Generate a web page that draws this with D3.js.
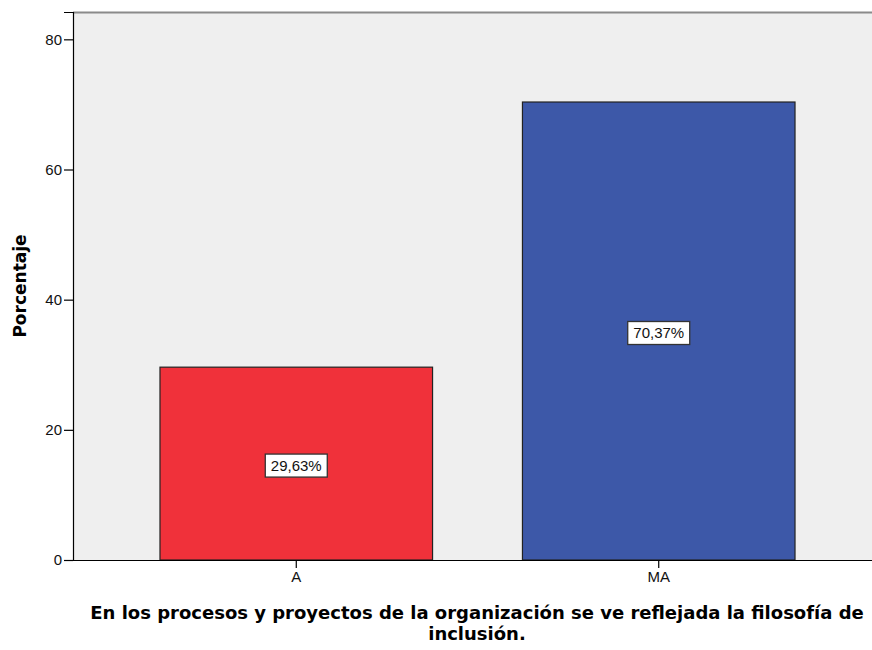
<!DOCTYPE html>
<html>
<head>
<meta charset="utf-8">
<script src="https://cdn.jsdelivr.net/npm/d3@7"></script>
<style>
  body { margin: 0; background: #fff; }
</style>
</head>
<body>
<div id="chart"></div>
<script>
// data
var categories = ["A", "MA"];
var percents = [29.63, 70.37];
var labels = ["29,63%", "70,37%"];
var barColors = ["#f0313a", "#3d58a8"];
var yTicks = [0, 20, 40, 60, 80];

var W = 872, H = 650;
var margin = { top: 12, right: -10, bottom: 90, left: 73 },
    width = W - margin.left - margin.right,
    height = H - margin.top - margin.bottom;

var svg = d3.select("#chart")
    .append("svg")
    .attr("width", W)
    .attr("height", H);

var g = svg.append("g")
    .attr("transform", "translate(" + margin.left + "," + margin.top + ")");

// y: 0 sits at the bottom, 80 ~ 28px below the top
var y = d3.scaleLinear()
    .domain([0, 84.2])
    .range([height, 0]);

var x = d3.scaleBand()
    .domain(categories)
    .range([0, width])
    .paddingInner(0.248)
    .paddingOuter(0.24);

// plot background
g.append("rect")
    .attr("x", 0).attr("y", 0)
    .attr("width", width).attr("height", height)
    .attr("fill", "#efefef");

// top border
g.append("line")
    .attr("x1", 0).attr("x2", width)
    .attr("y1", 0.5).attr("y2", 0.5)
    .attr("stroke", "#8a8a8a")
    .attr("stroke-width", 2);

// bars
g.selectAll(".bar")
    .data(categories)
    .enter()
    .append("rect")
    .attr("class", "bar")
    .attr("x", function (d) { return x(d); })
    .attr("y", function (d, i) { return y(percents[i]); })
    .attr("width", x.bandwidth())
    .attr("height", function (d, i) { return height - y(percents[i]); })
    .attr("fill", function (d, i) { return barColors[i]; })
    .attr("stroke", "#222")
    .attr("stroke-width", 1.2);

// value labels in boxes
var lab = g.selectAll(".lab")
    .data(categories)
    .enter()
    .append("g")
    .attr("class", "lab")
    .attr("transform", function (d, i) {
        return "translate(" + (x(d) + x.bandwidth() / 2) + "," + (y(percents[i] / 2) + 2) + ")";
    });

lab.append("rect")
    .attr("x", -31).attr("y", -11.5)
    .attr("width", 62).attr("height", 23)
    .attr("fill", "#fff")
    .attr("stroke", "#333")
    .attr("stroke-width", 1.3);

lab.append("text")
    .text(function (d, i) { return labels[i]; })
    .attr("text-anchor", "middle")
    .attr("dy", "0.36em")
    .attr("font-family", "Liberation Sans, Arial, sans-serif")
    .attr("font-size", "15px")
    .attr("fill", "#111");

// y axis
var yAxis = g.append("g")
    .call(d3.axisLeft(y).tickValues(yTicks).tickSize(9).tickPadding(2));
yAxis.select(".domain").attr("stroke", "#000").attr("stroke-width", 1.2);
yAxis.selectAll(".tick line").attr("stroke", "#000").attr("stroke-width", 1.2);
yAxis.selectAll("text")
    .attr("font-family", "Liberation Sans, Arial, sans-serif")
    .attr("font-size", "15px")
    .attr("fill", "#111");

// x axis
var xAxis = g.append("g")
    .attr("transform", "translate(0," + height + ")")
    .call(d3.axisBottom(x).tickSize(8).tickSizeOuter(0).tickPadding(3));
xAxis.select(".domain").attr("stroke", "#000").attr("stroke-width", 1.2);
xAxis.selectAll(".tick line").attr("stroke", "#000").attr("stroke-width", 1.2);
xAxis.selectAll("text")
    .attr("font-family", "Liberation Sans, Arial, sans-serif")
    .attr("font-size", "15px")
    .attr("fill", "#111");

// axis titles
svg.append("text")
    .attr("transform", "translate(26,286) rotate(-90)")
    .attr("text-anchor", "middle")
    .attr("font-family", "DejaVu Sans, sans-serif")
    .attr("font-weight", "bold")
    .attr("font-size", "17px")
    .text("Porcentaje");

var xt = svg.append("text")
    .attr("text-anchor", "middle")
    .attr("font-family", "DejaVu Sans, sans-serif")
    .attr("font-weight", "bold")
    .attr("font-size", "18px");
xt.append("tspan")
    .attr("x", 477).attr("y", 619)
    .text("En los procesos y proyectos de la organización se ve reflejada la filosofía de");
xt.append("tspan")
    .attr("x", 477).attr("y", 640)
    .text("inclusión.");
</script>
</body>
</html>
